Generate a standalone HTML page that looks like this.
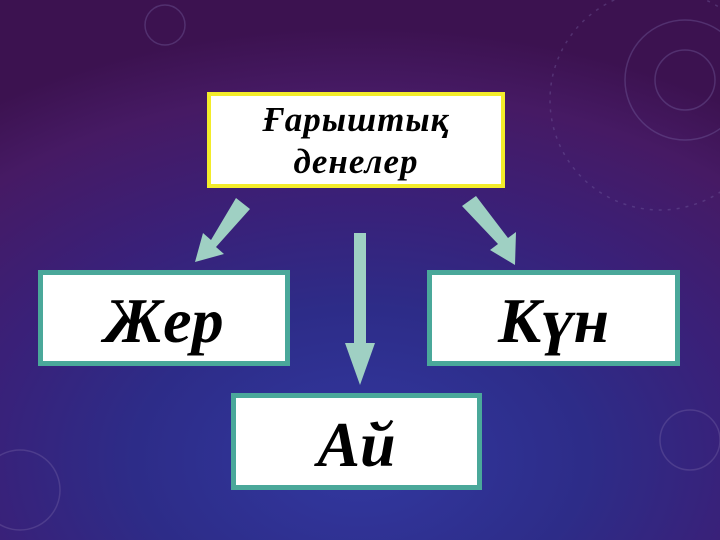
<!DOCTYPE html>
<html><head><meta charset="utf-8"><style>
html,body{margin:0;padding:0;width:720px;height:540px;overflow:hidden}
body{background:radial-gradient(ellipse 90% 80% at 50% 85%,#3238a0 0%,#2d2c88 35%,#3a2078 60%,#461a64 85%,#3c1250 100%)}
.box{position:absolute;background:#fff;box-sizing:border-box;display:flex;align-items:center;justify-content:center;font-family:"Liberation Serif",serif;font-style:italic;font-weight:bold;color:#000;text-align:center}
.t{left:207px;top:92px;width:298px;height:96px;border:4px solid #f3ec2a;font-size:35px;line-height:42px;letter-spacing:1px;padding-top:2px}
.g{border:5px solid #4aa89a;font-size:64px;padding-top:6px}
</style></head><body>
<svg width="720" height="540" style="position:absolute;left:0;top:0">
<g fill="none" stroke="#7a6aa8" stroke-opacity="0.35" stroke-width="1.5">
<circle cx="685" cy="80" r="30"/><circle cx="685" cy="80" r="60"/><circle cx="660" cy="100" r="110" stroke-dasharray="3 6"/>
<circle cx="165" cy="25" r="20"/><circle cx="20" cy="490" r="40"/><circle cx="690" cy="440" r="30"/>
</g>
<g fill="#9fd0c3">
<polygon points="236,198 250,209 216,247 224,254 195,262 203,233 211,240"/>
<rect x="354" y="233" width="12" height="112"/>
<polygon points="345,343 375,343 360,385"/>
<polygon points="462,206 476,196 508,238 516,232 515,265 490,250 498,244"/>
</g>
</svg>
<div class="box t">Ғарыштық<br>денелер</div>
<div class="box g" style="left:38px;top:270px;width:252px;height:96px">Жер</div>
<div class="box g" style="left:427px;top:270px;width:253px;height:96px">Күн</div>
<div class="box g" style="left:231px;top:393px;width:251px;height:97px">Ай</div>
</body></html>
